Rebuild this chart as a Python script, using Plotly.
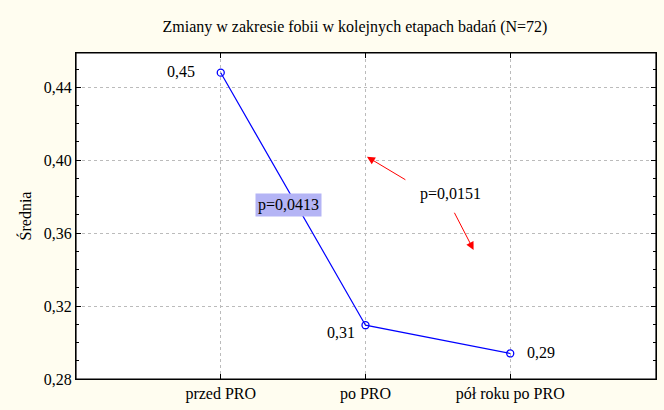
import plotly.graph_objects as go

categories = ["przed PRO", "po PRO", "pół roku po PRO"]
means = [0.448, 0.3095, 0.294]
point_labels = ["0,45", "0,31", "0,29"]
y_tickvals = [0.28, 0.32, 0.36, 0.40, 0.44]
y_ticktext = ["0,28", "0,32", "0,36", "0,40", "0,44"]
p_values = ["p=0,0413", "p=0,0151"]

FONT = "Liberation Serif"
FS = 16
BG = "#FFFDF0"

x_idx = list(range(len(categories)))

fig = go.Figure()
fig.add_trace(go.Scatter(
    x=x_idx, y=means, mode="lines+markers",
    line=dict(color="#0000FF", width=1.2),
    marker=dict(symbol="circle-open", size=7, color="#0000FF", line=dict(width=1.3)),
    showlegend=False, hoverinfo="skip",
))

# value labels (offsets in axis units)
label_dx = [-0.165, -0.06, 0.1]
label_dy = [0.0005, -0.004, 0.0005]
label_anchor = ["right", "right", "left"]
for i, (lab, m) in enumerate(zip(point_labels, means)):
    fig.add_annotation(x=i + label_dx[i], y=m + label_dy[i], text=lab, showarrow=False,
                       xanchor=label_anchor[i], yanchor="middle",
                       font=dict(family=FONT, size=FS, color="black"))

fig.add_annotation(x=0.47, y=0.3755, text=p_values[0], showarrow=False,
                   bgcolor="#B4B4F5", borderpad=2,
                   font=dict(family=FONT, size=FS, color="black"))
fig.add_annotation(x=1.59, y=0.3812, text=p_values[1], showarrow=False,
                   font=dict(family=FONT, size=FS, color="black"))

fig.add_annotation(x=1.010, y=0.4019, ax=1.286, ay=0.3888, axref="x", ayref="y",
                   xref="x", yref="y", text="", showarrow=True,
                   arrowhead=2, arrowsize=1.6, arrowwidth=1, arrowcolor="#FF0000")
fig.add_annotation(x=1.747, y=0.3508, ax=1.609, ay=0.372, axref="x", ayref="y",
                   xref="x", yref="y", text="", showarrow=True,
                   arrowhead=2, arrowsize=1.6, arrowwidth=1, arrowcolor="#FF0000")

fig.add_shape(type="rect", xref="paper", yref="paper", x0=0, y0=0, x1=1, y1=1,
              line=dict(color="#000000", width=1.2), layer="above")

fig.update_layout(
    width=664, height=410,
    paper_bgcolor=BG, plot_bgcolor="white",
    margin=dict(l=76, r=7, t=53, b=29),
    title=dict(text="Zmiany w zakresie fobii w kolejnych etapach badań (N=72)",
               x=355 / 664, xanchor="center", y=1 - 26 / 410, yanchor="middle",
               font=dict(family=FONT, size=FS, color="black")),
    font=dict(family=FONT, size=FS, color="black"),
)
fig.update_xaxes(
    range=[-1, 3.007], tickvals=x_idx, ticktext=categories,
    showline=True, linecolor="#000000", linewidth=1, mirror="allticks",
    ticks="inside", ticklen=5, tickwidth=1, tickcolor="#000000",
    showgrid=True, gridcolor="#BBBBBB", griddash="dot", gridwidth=1,
    zeroline=False, tickfont=dict(family=FONT, size=FS),
)
fig.update_yaxes(
    range=[0.28, 0.4588], tickvals=y_tickvals, ticktext=y_ticktext,
    showline=True, linecolor="#000000", linewidth=1, mirror="allticks",
    ticks="inside", ticklen=5, tickwidth=1, tickcolor="#000000",
    minor=dict(dtick=0.01, tick0=0.28, ticks="inside", ticklen=3, tickcolor="#000000", showgrid=False),
    showgrid=True, gridcolor="#BBBBBB", griddash="dot", gridwidth=1,
    zeroline=False, tickfont=dict(family=FONT, size=FS),
    title=dict(text="Średnia", font=dict(family=FONT, size=FS), standoff=8),
)

fig.write_html("out.html", config={"displayModeBar": False},
               post_script="document.body.style.margin='0';")
